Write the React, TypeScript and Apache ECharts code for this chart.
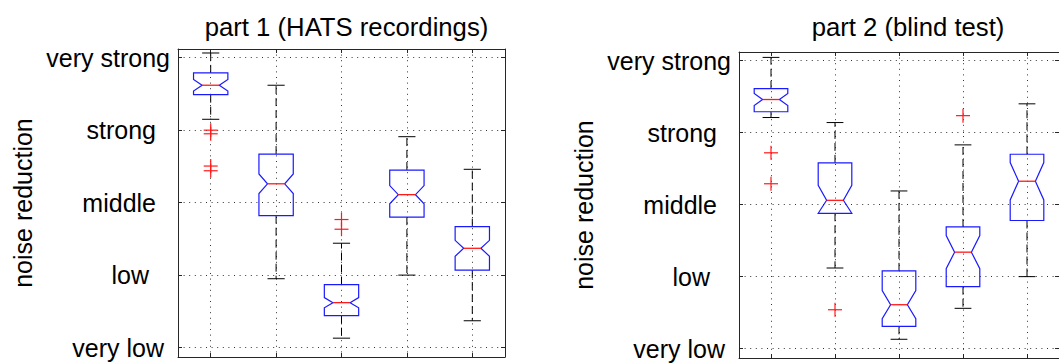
import React, { useEffect, useRef } from "react";
import * as echarts from "echarts";

// ---- data ----
const CATS = [1, 2, 3, 4, 5];
const LEVELS = [1, 2, 3, 4, 5];
const LEVEL_LABELS = ["very low", "low", "middle", "strong", "very strong"];

// part 1 (HATS recordings)
const P1_LO = [4.15, 1.95, 1.13, 2.0, 1.37];
const P1_Q1 = [4.49, 2.82, 1.44, 2.8, 2.07];
const P1_MED = [4.62, 3.26, 1.62, 3.11, 2.37];
const P1_Q3 = [4.79, 3.67, 1.87, 3.45, 2.67];
const P1_HI = [5.065, 4.62, 2.44, 3.91, 3.46];
const P1_NOTCH = [0.08, 0.135, 0.07, 0.125, 0.11];
const P1_OUT_X = [1, 1, 1, 1, 3, 3];
const P1_OUT_Y = [4.0, 3.95, 3.505, 3.44, 2.767, 2.633];

// part 2 (blind test)
const P2_LO = [4.21, 2.12, 1.13, 1.56, 2.0];
const P2_Q1 = [4.29, 2.88, 1.31, 1.86, 2.78];
const P2_MED = [4.46, 3.06, 1.61, 2.34, 3.325];
const P2_Q3 = [4.61, 3.58, 2.08, 2.69, 3.7];
const P2_HI = [5.045, 4.14, 3.19, 3.83, 4.4];
const P2_NOTCH = [0.083, 0.208, 0.195, 0.23, 0.26];
const P2_OUT_X = [1, 1, 2, 4];
const P2_OUT_Y = [3.72, 3.29, 1.54, 4.236];

const TITLES = ["part 1 (HATS recordings)", "part 2 (blind test)"];
const Y_NAME = "noise reduction";

// ---- styles ----
const FONT = "'Liberation Sans', Arial, Helvetica, sans-serif";
const BLUE = "#1a1aff";
const RED = "#ff1a1a";
const LABEL_PAD = [6, 21, 14, 14, 0];

function boxData(lo: number[], q1: number[], med: number[], q3: number[], hi: number[], notch: number[]) {
  return CATS.map((c, i) => [c, lo[i], q1[i], med[i], q3[i], hi[i], notch[i]]);
}

function renderBox(params: any, api: any) {
  const x = api.value(0);
  const lo = api.value(1);
  const q1 = api.value(2);
  const med = api.value(3);
  const q3 = api.value(4);
  const hi = api.value(5);
  const notch = api.value(6);
  const nHi = Math.min(med + notch, q3);
  const nLo = Math.max(med - notch, q1);
  const c = api.coord([x, med])[0];
  const yLo = api.coord([x, lo])[1];
  const yQ1 = api.coord([x, q1])[1];
  const yMed = api.coord([x, med])[1];
  const yQ3 = api.coord([x, q3])[1];
  const yHi = api.coord([x, hi])[1];
  const yNHi = api.coord([x, nHi])[1];
  const yNLo = api.coord([x, nLo])[1];
  const w = (api.size([1, 0])[0] * 0.525) / 2;
  const nw = w / 2;
  const dash = { stroke: "#000", lineWidth: 1, lineDash: [8, 4], fill: null };
  const solid = { stroke: "#000", lineWidth: 1, fill: null };
  return {
    type: "group",
    children: [
      { type: "line", shape: { x1: c, y1: yQ3, x2: c, y2: yHi }, style: dash },
      { type: "line", shape: { x1: c, y1: yQ1, x2: c, y2: yLo }, style: dash },
      { type: "line", shape: { x1: c - nw, y1: yHi, x2: c + nw, y2: yHi }, style: solid },
      { type: "line", shape: { x1: c - nw, y1: yLo, x2: c + nw, y2: yLo }, style: solid },
      {
        type: "polygon",
        shape: {
          points: [
            [c - w, yQ3],
            [c + w, yQ3],
            [c + w, yNHi],
            [c + nw, yMed],
            [c + w, yNLo],
            [c + w, yQ1],
            [c - w, yQ1],
            [c - w, yNLo],
            [c - nw, yMed],
            [c - w, yNHi],
          ],
        },
        style: { stroke: BLUE, lineWidth: 1.2, fill: "none" },
      },
      { type: "line", shape: { x1: c - nw, y1: yMed, x2: c + nw, y2: yMed }, style: { stroke: RED, lineWidth: 1.3 } },
    ],
  };
}

function renderPlus(params: any, api: any) {
  const p = api.coord([api.value(0), api.value(1)]);
  const s = 7;
  const st = { stroke: RED, lineWidth: 1.2 };
  return {
    type: "group",
    children: [
      { type: "line", shape: { x1: p[0] - s, y1: p[1], x2: p[0] + s, y2: p[1] }, style: st },
      { type: "line", shape: { x1: p[0], y1: p[1] - s, x2: p[0], y2: p[1] + s }, style: st },
    ],
  };
}

const axisLineStyle = { show: true, lineStyle: { color: "#262626", width: 1 } };

function xAxes(gridIndex: number) {
  const base = {
    gridIndex,
    type: "value",
    min: 0.5,
    max: 5.5,
    axisLine: axisLineStyle,
    axisTick: { show: true, inside: true, length: 4, customValues: CATS, lineStyle: { color: "#262626" } },
    axisLabel: { show: false },
  };
  return [
    { ...base, position: "bottom", splitLine: { show: true, lineStyle: { color: "#333", width: 1, type: [1, 4.6] } } },
    { ...base, position: "top", splitLine: { show: false } },
  ];
}

function yAxes(gridIndex: number) {
  const base = {
    gridIndex,
    type: "value",
    min: 0.87,
    max: 5.12,
    axisLine: axisLineStyle,
    axisTick: { show: true, inside: true, length: 4, customValues: LEVELS, lineStyle: { color: "#262626" } },
  };
  const rich: any = {};
  LEVEL_LABELS.forEach((_, i) => {
    rich["r" + i] = { fontSize: 25, fontFamily: FONT, color: "#000", padding: [0, LABEL_PAD[i], 0, 0] };
  });
  return [
    {
      ...base,
      position: "left",
      name: Y_NAME,
      nameLocation: "middle",
      nameRotate: 90,
      nameGap: 143,
      nameTextStyle: { fontSize: 25, fontFamily: FONT, color: "#000" },
      axisLabel: {
        show: true,
        margin: 8,
        customValues: LEVELS,
        fontSize: 25,
        fontFamily: FONT,
        color: "#000",
        formatter: (v: number) => {
          const i = LEVELS.indexOf(Math.round(v));
          return i >= 0 ? "{r" + i + "|" + LEVEL_LABELS[i] + "}" : "";
        },
        rich,
      },
      splitLine: { show: true, lineStyle: { color: "#333", width: 1, type: [1, 4.6] } },
    },
    { ...base, position: "right", axisLabel: { show: false }, splitLine: { show: false } },
  ];
}

export default function App() {
  const ref = useRef<HTMLDivElement>(null);
  useEffect(() => {
    if (!ref.current) return;
    const chart = echarts.init(ref.current, undefined, { renderer: "svg" });
    const titleStyle = { fontSize: 25.7, fontWeight: "normal", fontFamily: FONT, color: "#000" };
    chart.setOption({
      animation: false,
      backgroundColor: "#fff",
      title: [
        { text: TITLES[0], left: 341.5, top: 9, textAlign: "center", textStyle: titleStyle },
        { text: TITLES[1], left: 903, top: 9, textAlign: "center", textStyle: titleStyle },
      ],
      grid: [
        { left: 178, top: 49, width: 327, height: 308 },
        { left: 739, top: 52, width: 328, height: 306 },
      ],
      xAxis: [...xAxes(0), ...xAxes(1)],
      yAxis: [...yAxes(0), ...yAxes(1)],
      series: [
        { type: "custom", xAxisIndex: 0, yAxisIndex: 0, renderItem: renderBox, data: boxData(P1_LO, P1_Q1, P1_MED, P1_Q3, P1_HI, P1_NOTCH), encode: { x: 0, y: [1, 2, 3, 4, 5] }, clip: false },
        { type: "custom", xAxisIndex: 0, yAxisIndex: 0, renderItem: renderPlus, data: P1_OUT_X.map((x, i) => [x, P1_OUT_Y[i]]), encode: { x: 0, y: 1 } },
        { type: "custom", xAxisIndex: 2, yAxisIndex: 2, renderItem: renderBox, data: boxData(P2_LO, P2_Q1, P2_MED, P2_Q3, P2_HI, P2_NOTCH), encode: { x: 0, y: [1, 2, 3, 4, 5] }, clip: false },
        { type: "custom", xAxisIndex: 2, yAxisIndex: 2, renderItem: renderPlus, data: P2_OUT_X.map((x, i) => [x, P2_OUT_Y[i]]), encode: { x: 0, y: 1 } },
      ],
    });
    return () => chart.dispose();
  }, []);
  return (
    <div
      ref={ref}
      style={{ position: "fixed", left: 0, top: 0, width: 1059, height: 363, overflow: "hidden", background: "#fff" }}
    />
  );
}
